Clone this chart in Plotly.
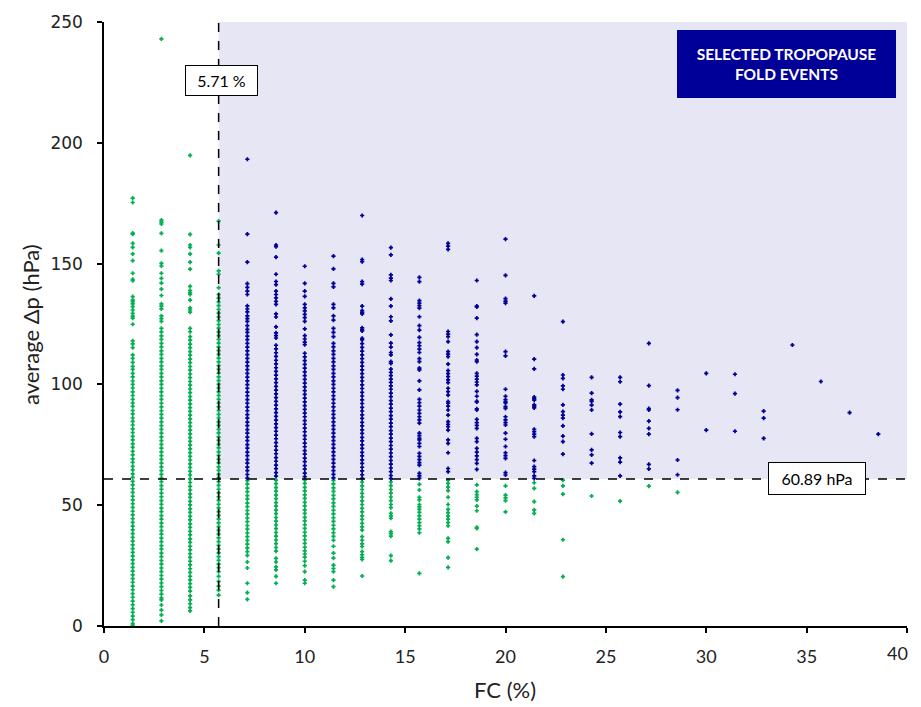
import plotly.graph_objects as go

# ---------------- data ----------------
FC_THRESHOLD = 5.71      # %
DP_THRESHOLD = 60.89     # hPa

FC_COLUMNS = [1.43, 2.86, 4.29, 5.71, 7.14, 8.57, 10.0, 11.43, 12.86, 14.29,
              15.71, 17.14, 18.57, 20.0, 21.43, 22.86, 24.29, 25.71, 27.14,
              28.57, 30.0, 31.43, 32.86, 34.29, 35.71, 37.14, 38.57]

DP_C01 = [177.1, 175.3, 162.6, 162.2, 158.4, 156.7, 154.0, 151.2, 146.0, 143.5, 142.9,
          136.3, 134.9, 134.3, 133.3, 132.2, 130.8, 129.4, 128.3, 127.4, 124.9, 118.0,
          116.8, 115.2,
          112.2, 110.8, 109.1, 107.5, 106.2, 104.6, 103.1, 101.4, 100.0, 98.5, 96.9, 95.4,
          93.8, 92.3, 90.9, 89.2, 87.8, 86.1, 84.7, 83.2, 81.6, 80.1, 78.5, 77.0, 75.4,
          73.9, 72.3, 70.8, 69.2, 67.7, 66.1, 64.6, 63.0, 61.5, 59.9, 58.4, 56.8, 55.3,
          53.7, 52.2, 50.6, 49.1, 47.5, 46.0, 44.4, 42.9, 41.3, 39.8, 38.2, 36.7, 35.1,
          33.6, 32.0, 30.5, 28.9, 27.4, 25.8, 24.3, 22.7, 21.2, 19.6, 18.1, 16.5, 15.0,
          13.4, 11.9, 10.3, 8.8, 7.2, 5.7, 4.1, 2.6, 1.0, 0.3]

DP_C02 = [243.0, 168.0, 167.2, 166.4, 162.5, 155.4, 150.1, 149.0, 146.0, 143.9, 141.9,
          139.4, 136.8, 133.3, 132.4, 131.3, 128.4, 127.2, 126.1,
          123.2, 121.7, 120.1, 118.6, 117.0, 115.5, 113.9, 112.4, 110.8, 109.3, 107.7,
          106.2, 104.6, 103.1, 101.5, 100.0, 98.4, 96.9, 95.3, 93.8, 92.2, 90.7, 89.1,
          87.6, 86.0, 84.5, 82.9, 81.4, 79.8, 78.3, 76.7, 75.2, 73.6, 72.1, 70.5, 69.0,
          67.4, 65.9, 64.3, 62.8, 61.2, 59.7, 58.1, 56.6, 55.0, 53.5, 51.9, 50.4, 48.8,
          47.3, 45.7, 44.2, 42.6, 41.1, 39.5, 38.0, 36.4, 34.9, 33.3, 31.8, 30.2, 28.7,
          27.1, 25.6, 24.0, 22.5, 20.9, 19.4, 17.8, 16.3, 14.7, 13.2, 11.6,
          10.8, 8.7, 6.6, 4.6, 2.1]

DP_C03 = [194.8, 162.1, 157.7, 156.7, 154.0, 150.6, 147.7, 140.6, 138.8, 137.9, 137.2,
          134.9, 131.7, 130.8, 129.9, 123.2, 121.8,
          119.8, 118.3, 116.7, 115.2, 113.6, 112.1, 110.5, 109.0, 107.4, 105.9, 104.3,
          102.8, 101.2, 99.7, 98.1, 96.6, 95.0, 93.5, 91.9, 90.4, 88.8, 87.3, 85.7, 84.2,
          82.6, 81.1, 79.5, 78.0, 76.4, 74.9, 73.3, 71.8, 70.2, 68.7, 67.1, 65.6, 64.0,
          62.5, 60.9, 59.4, 57.8, 56.3, 54.7, 53.2, 51.6, 50.1, 48.5, 47.0, 45.4, 43.9,
          42.3, 40.8, 39.2, 37.7, 36.1, 34.6, 33.0, 31.5, 29.9, 28.4, 26.8, 25.3, 23.7,
          22.2, 20.6, 19.1, 17.5, 16.0, 14.4,
          12.5, 10.8, 9.2, 7.6, 6.3]

DP_C04 = [167.6, 157.7, 154.3, 147.0, 145.6, 140.0,
          137.2, 135.7, 134.1, 132.6, 131.0, 129.5, 127.9, 126.4, 124.8, 123.3, 121.7,
          120.2, 118.6, 117.1, 115.5, 114.0, 112.4, 110.9, 109.3, 107.8, 106.2, 104.7,
          103.1, 101.6, 100.0, 98.5, 96.9, 95.4, 93.8, 92.3, 90.7, 89.2, 87.6, 86.1, 84.5,
          83.0, 81.4, 79.9, 78.3, 76.8, 75.2, 73.7, 72.1, 70.6, 69.0, 67.5, 65.9, 64.4,
          62.8, 61.3, 59.7, 58.2, 56.6, 55.1, 53.5, 52.0, 50.4, 48.9, 47.3, 45.8, 44.2,
          42.7, 41.1, 39.6, 38.0, 36.5, 34.9, 33.4, 31.8, 30.3, 28.7, 27.2, 25.6, 24.1,
          22.5,
          20.5, 18.5, 16.5, 14.8, 12.8]

DP_C05 = [193.2, 162.2, 150.6, 141.7, 140.2, 138.6, 137.2, 132.5, 131.2, 130.0, 128.4,
          127.2, 126.1, 124.3, 122.8, 121.5, 120.0,
          118.5, 117.0, 115.4, 113.9, 112.3, 110.8, 109.2, 107.7, 106.1, 104.6, 103.0,
          101.5, 99.9, 98.4, 96.8, 95.3, 93.7, 92.2, 90.6, 89.1, 87.5, 86.0, 84.4, 82.9,
          81.3, 79.8, 78.2, 76.7, 75.1, 73.6, 72.0, 70.5, 68.9, 67.4, 65.8, 64.3, 62.7,
          61.2, 60.2, 58.7, 57.1, 55.6, 54.0, 52.5, 50.9, 49.4, 47.8, 46.3, 44.7, 43.2,
          41.6, 40.1, 38.5, 37.0, 35.4, 33.9, 32.3, 30.8, 29.2,
          26.5, 24.0, 17.7, 13.8, 11.0]

DP_C06 = [171.1, 157.7, 157.0, 152.7, 145.6, 142.6, 141.3, 138.6, 137.2, 135.8, 134.4,
          133.1, 129.2, 127.9, 123.8, 121.3, 120.2, 119.2,
          116.2, 114.7, 113.1, 111.6, 110.0, 108.5, 106.9, 105.4, 103.8, 102.3, 100.7,
          99.2, 97.6, 96.1, 94.5, 93.0, 91.4, 89.9, 88.3, 86.8, 85.2, 83.7, 82.1, 80.6,
          79.0, 77.5, 75.9, 74.4, 72.8, 71.3, 69.7, 68.2, 66.6, 65.1, 63.5, 62.0, 60.4,
          58.9, 57.3, 55.8, 54.2, 52.7, 51.1, 49.6, 48.0, 46.5, 44.9, 43.4, 41.8, 40.3,
          38.7, 37.2, 35.6, 34.1, 32.5, 31.0,
          28.0, 26.5, 24.5, 23.2, 20.5, 17.7]

DP_C07 = [148.9, 141.8, 138.6, 136.4, 133.1, 131.7, 130.4, 129.0, 127.6, 126.1, 123.0,
          120.2, 118.8, 117.5, 116.5,
          112.9, 111.4, 109.8, 108.3, 106.7, 105.2, 103.6, 102.1, 100.5, 99.0, 97.4, 95.9,
          94.3, 92.8, 91.2, 89.7, 88.1, 86.6, 85.0, 83.5, 81.9, 80.4, 78.8, 77.3, 75.7,
          74.2, 72.6, 71.1, 69.5, 68.0, 66.4, 64.9, 63.3, 61.8, 60.5, 59.0, 57.4, 55.9,
          54.3, 52.8, 51.2, 49.7, 48.1, 46.6, 45.0, 43.5, 41.9, 40.4, 38.8, 37.3, 35.7,
          34.2, 32.6, 31.1, 29.8,
          28.5, 26.8, 25.0, 22.5, 19.0, 17.7]

DP_C08 = [153.1, 147.8, 141.8, 140.4, 133.1, 131.7, 128.4, 126.6, 123.2, 121.5, 119.8,
          117.0, 115.5, 113.9, 112.4, 110.8, 109.3, 107.7, 106.2, 104.6, 103.1, 101.5,
          100.0, 98.4, 96.9, 95.3, 93.8, 92.2, 90.7, 89.1, 87.6, 86.0, 84.5, 82.9, 81.4,
          79.8, 78.3, 76.7, 75.2, 73.6, 72.1, 70.5, 69.0, 67.4, 65.9, 64.3, 62.8, 61.3,
          60.3, 58.8, 57.2, 55.7, 54.1, 52.6, 51.0, 49.5, 47.9, 46.4, 44.8, 43.3, 41.7,
          40.2, 38.6, 37.1, 35.5,
          33.0, 30.2, 28.1, 25.2, 23.8, 22.5, 19.0, 16.3]

DP_C09 = [169.9, 151.7, 150.8, 142.5, 141.5, 132.4, 130.5, 129.8, 129.2, 123.4, 122.6,
          122.1, 119.1,
          118.4, 116.9, 115.3, 113.8, 112.2, 110.7, 109.1, 107.6, 106.0, 104.5, 102.9,
          101.4, 99.8, 98.3, 96.7, 95.2, 93.6, 92.1, 90.5, 89.0, 87.4, 85.9, 84.3, 82.8,
          81.2, 79.7, 78.1, 76.6, 75.0, 73.5, 71.9, 70.4, 68.8, 67.3, 65.7, 64.2, 62.6,
          61.1, 59.6, 58.0, 56.5, 54.9, 53.4, 51.8, 50.3, 48.7, 47.2, 45.6, 44.1, 42.5,
          41.0, 39.7,
          37.0, 35.5, 34.0, 32.9, 30.8, 29.5, 28.4, 27.6, 20.7]

DP_C10 = [156.6, 153.6, 145.3, 144.0, 143.0, 135.4, 132.4, 128.0, 126.3, 120.5, 117.1,
          115.4, 113.2, 112.2, 109.4, 108.7, 106.3, 105.0, 103.6, 102.2, 100.8, 99.4, 98.0,
          96.4, 94.9, 93.3, 91.8, 90.2, 88.7, 87.1, 85.6, 84.0, 82.5, 80.9, 79.4, 77.8,
          76.3, 74.7, 73.2, 71.6, 70.1, 68.5, 67.0, 65.4, 63.9, 62.3, 61.0, 59.6, 58.1,
          56.5, 55.0, 53.4, 51.9, 50.3, 49.0,
          46.6, 45.6, 44.6, 39.1, 38.2, 37.2, 29.1, 27.1]

DP_C11 = [144.3, 142.5, 134.7, 133.6, 132.6, 131.6, 128.0, 124.3, 122.5, 119.5, 117.3,
          116.0, 114.6, 113.2, 110.7, 109.4, 106.7, 106.0, 101.5, 97.7, 93.8, 92.4, 91.0,
          89.4, 88.0, 86.6, 85.3, 84.0, 79.8, 78.8, 77.7, 77.0, 75.6, 74.3, 71.5, 70.2,
          68.9, 67.6, 66.6, 63.2, 62.1, 61.1, 58.6, 56.3, 53.2, 52.2, 50.3, 49.3, 48.3,
          47.0, 45.6, 44.2, 42.8, 41.5, 40.2, 38.6, 21.8]

DP_C12 = [158.4, 157.2, 155.9, 121.9, 120.8, 119.8, 117.7, 113.6, 112.5, 111.5, 108.4,
          105.7, 104.5, 103.2, 101.9, 100.7, 98.4, 97.0, 95.6, 92.9, 92.2, 91.0, 89.4,
          87.3, 84.6, 83.5, 82.5, 81.1, 77.0, 75.6, 71.7, 65.2, 63.9, 60.4, 59.0, 57.5,
          56.0, 53.3, 50.3, 48.3, 46.9, 45.5, 44.2, 42.8, 41.5, 36.3, 34.9, 28.3, 24.3]

DP_C13 = [143.0, 132.4, 132.1, 127.4, 120.6, 117.7, 115.2, 112.4, 110.1, 109.4, 104.6,
          103.4, 102.2, 101.0, 99.8, 97.1, 95.1, 93.0, 92.8, 89.9, 89.4, 85.5, 84.2, 83.0,
          81.8, 77.7, 76.3, 73.5, 72.0, 70.4, 68.9, 67.3, 64.8, 58.4, 55.6, 54.4, 53.3,
          52.2, 49.6, 47.7, 40.8, 40.4, 31.8]

DP_C14 = [160.1, 145.1, 135.5, 134.5, 133.6, 113.6, 111.8, 98.0, 95.1, 93.7, 92.8, 92.3,
          90.8, 90.1, 86.6, 85.3, 84.2, 83.2, 79.8, 77.3, 74.3, 71.7, 70.5, 69.4, 63.5,
          62.5, 58.0, 54.2, 53.0, 51.9, 47.2]

DP_C15 = [136.6, 110.5, 106.4, 94.7, 94.0, 93.5, 91.5, 91.0, 90.3, 81.4, 80.4, 79.4,
          78.4, 68.5, 66.0, 64.9, 63.9, 62.1, 61.1, 59.3, 57.0, 51.5, 48.1, 46.6]

DP_C16 = [126.0, 103.9, 102.5, 99.4, 98.0, 91.5, 88.7, 87.3, 86.0, 82.8, 78.6, 76.3,
          71.1, 60.4, 58.0, 54.6, 35.7, 20.4]

DP_C17 = [102.9, 96.4, 93.6, 93.0, 91.4, 89.4, 79.5, 72.9, 70.8, 67.4, 53.8]
DP_C18 = [102.9, 101.1, 91.8, 88.6, 86.7, 80.1, 78.4, 69.6, 67.8, 62.1, 51.7]
DP_C19 = [117.0, 99.5, 90.0, 89.4, 84.8, 81.8, 79.4, 66.9, 65.0, 57.9]
DP_C20 = [97.5, 94.5, 89.5, 68.7, 62.6, 55.3]
DP_C21 = [104.6, 81.1]
DP_C22 = [104.2, 96.2, 80.6]
DP_C23 = [88.9, 86.0, 77.7]
DP_C24 = [116.3]
DP_C25 = [101.2]
DP_C26 = [88.3]
DP_C27 = [79.4]

DP_COLUMNS = [DP_C01, DP_C02, DP_C03, DP_C04, DP_C05, DP_C06, DP_C07, DP_C08, DP_C09,
              DP_C10, DP_C11, DP_C12, DP_C13, DP_C14, DP_C15, DP_C16, DP_C17, DP_C18,
              DP_C19, DP_C20, DP_C21, DP_C22, DP_C23, DP_C24, DP_C25, DP_C26, DP_C27]

X_TICKS = [0, 5, 10, 15, 20, 25, 30, 35, 40]
X_TICK_LABELS = ["0", "5", "10", "15", "20", "25", "30", "35", "40"]
Y_TICKS = [0, 50, 100, 150, 200, 250]

# ---------------- split into selected / other ----------------
sel_x, sel_y, oth_x, oth_y = [], [], [], []
for fc, vals in zip(FC_COLUMNS, DP_COLUMNS):
    for v in vals:
        if fc > FC_THRESHOLD + 0.001 and v >= DP_THRESHOLD:
            sel_x.append(fc); sel_y.append(v)
        else:
            oth_x.append(fc); oth_y.append(v)

GREEN = "#00B050"
BLUE = "#000099"

# ---------------- geometry (page has an 8px body margin) ----------------
PAGE_OFF = 8
W, H = 913, 699
L, R, T, B = 96, 14, 14, 81
PW, PH = W - L - R, H - T - B


def paper_xy(px, py):
    """page pixel -> paper coordinates"""
    fx, fy = px - PAGE_OFF, py - PAGE_OFF
    return (fx - L) / PW, (H - B - fy) / PH


fig = go.Figure()

# shaded "selected" region
fig.add_shape(type="rect", xref="x", yref="y", x0=FC_THRESHOLD, x1=40,
              y0=DP_THRESHOLD, y1=250, fillcolor="#E6E6F5", line_width=0, layer="below")

marker_common = dict(symbol="cross-thin", size=3)
fig.add_trace(go.Scatter(x=oth_x, y=oth_y, mode="markers", showlegend=False,
                         marker=dict(**marker_common, color=GREEN,
                                     line=dict(color=GREEN, width=1.7))))
fig.add_trace(go.Scatter(x=sel_x, y=sel_y, mode="markers", showlegend=False,
                         marker=dict(**marker_common, color=BLUE,
                                     line=dict(color=BLUE, width=1.7))))

# threshold lines
fig.add_shape(type="line", xref="x", yref="y", x0=FC_THRESHOLD, x1=FC_THRESHOLD,
              y0=0, y1=250, line=dict(color="black", width=1.5, dash="dash"))
fig.add_shape(type="line", xref="x", yref="y", x0=0, x1=40,
              y0=DP_THRESHOLD, y1=DP_THRESHOLD, line=dict(color="black", width=1.5, dash="dash"))

LABEL_FONT = dict(family="Lato, Open Sans, sans-serif", size=16, color="black")
fig.add_annotation(x=5.86, y=225.6, xref="x", yref="y", showarrow=False,
                   text="5.71 %", font=LABEL_FONT, bgcolor="white",
                   bordercolor="black", borderwidth=1, borderpad=6, width=59, height=17)
fig.add_annotation(x=35.5, y=61.0, xref="x", yref="y", showarrow=False,
                   text="60.89 hPa", font=LABEL_FONT, bgcolor="white",
                   bordercolor="black", borderwidth=1, borderpad=6, width=84, height=19)
fig.add_annotation(x=34.0, y=232.6, xref="x", yref="y", showarrow=False,
                   text="<b>SELECTED TROPOPAUSE<br>FOLD EVENTS</b>",
                   font=dict(family="Lato, Open Sans, sans-serif", size=15.5, color="white"),
                   bgcolor=BLUE, bordercolor=BLUE, borderwidth=1,
                   width=215, height=64, align="center")

TICK_FONT_X = dict(family="Lato, Open Sans, sans-serif", size=18, color="#222")

# last x tick label drawn as text nudged inward so it stays fully inside the window
tx, ty = paper_xy(910, 653)
fig.add_annotation(x=tx, y=ty, xref="paper", yref="paper", showarrow=False,
                   xanchor="right", yanchor="middle",
                   text=X_TICK_LABELS[-1], font=TICK_FONT_X)

# axis titles
TITLE_FONT = dict(family="Lato, Open Sans, sans-serif", size=22, color="#222")
tx, ty = paper_xy(505, 689)
fig.add_annotation(x=tx, y=ty, xref="paper", yref="paper", showarrow=False,
                   xanchor="center", yanchor="middle",
                   text="FC (%)", font=TITLE_FONT)
tx, ty = paper_xy(30, 325)
fig.add_annotation(x=tx, y=ty, xref="paper", yref="paper", showarrow=False,
                   xanchor="center", yanchor="middle",
                   text="average Δp (hPa)", font=TITLE_FONT, textangle=-90)

fig.update_layout(
    width=W, height=H,
    margin=dict(l=L, r=R, t=T, b=B, autoexpand=False),
    paper_bgcolor="white", plot_bgcolor="white",
    xaxis=dict(range=[0, 40], tickvals=X_TICKS,
               ticktext=X_TICK_LABELS[:-1] + [""],
               showgrid=False, zeroline=False,
               automargin=False, ticklabeloverflow="allow",
               showline=True, linecolor="black", linewidth=1.5,
               ticks="outside", ticklen=5, tickcolor="black", tickwidth=1.5,
               ticklabelstandoff=9, tickfont=TICK_FONT_X),
    yaxis=dict(range=[0, 250], tickvals=Y_TICKS, showgrid=False, zeroline=False,
               automargin=False, ticklabeloverflow="allow",
               showline=True, linecolor="black", linewidth=1.5,
               ticks="outside", ticklen=5, tickcolor="black", tickwidth=1.5,
               ticklabelstandoff=11,
               tickfont=dict(family="DejaVu Sans, Verdana, sans-serif", size=17, color="#222")),
)

fig.write_html("out.html")
